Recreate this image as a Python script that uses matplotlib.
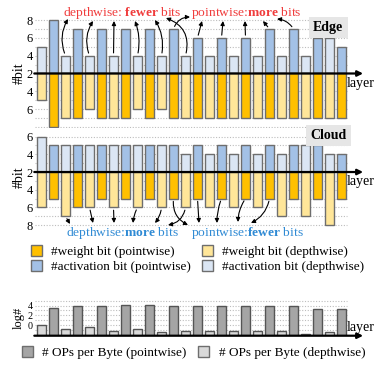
import matplotlib
matplotlib.use('Agg')
import matplotlib.pyplot as plt
from matplotlib.patches import Patch
import numpy as np

plt.rcParams['font.family'] = 'Liberation Serif'
plt.rcParams['mathtext.fontset'] = 'custom'
plt.rcParams['mathtext.rm'] = 'Liberation Serif'
plt.rcParams['mathtext.bf'] = 'Liberation Serif:bold'

# 13 blocks: a depthwise layer followed by a pointwise layer
edge_act_dw = [5, 4, 4, 4, 4, 4, 4, 4, 4, 4, 4, 4, 6]
edge_act_pw = [8, 7, 7, 7, 7, 7, 6, 6, 6, 7, 7, 6, 5]
edge_w_dw = [5, 7, 6, 7, 6, 6, 7, 7, 7, 7, 7, 7, 7]
edge_w_pw = [8, 7, 7, 7, 7, 7, 7, 7, 7, 7, 7, 7, 7]

cloud_act_dw = [6, 5, 5, 5, 5, 5, 4, 4, 4, 4, 4, 5, 4]
cloud_act_pw = [5, 5, 5, 5, 5, 5, 5, 5, 5, 5, 5, 5, 4]
cloud_w_dw = [6, 7, 6, 6, 6, 6, 6, 6, 6, 6, 7, 7, 8]
cloud_w_pw = [5, 6, 5, 5, 5, 5, 5, 5, 5, 5, 5, 5, 5]

# log # OPs per byte
ops_dw = [0.1, -0.9, -0.5, -1.3, -0.9, -1.45, -1.25, -1.25, -1.25, -1.25, -1.25, -1.9, -1.45]
ops_pw = [3.5, 4.0, 4.0, 4.1, 4.1, 4.0, 4.0, 4.0, 4.0, 4.0, 4.0, 3.3, 3.3]
ops_base = -2.2
bit_base = 2

C_W_PW = '#ffc000'
C_W_DW = '#ffe699'
C_A_PW = '#a3c1e6'
C_A_DW = '#dbe6f4'
C_OP_PW = '#a5a5a5'
C_OP_DW = '#d9d9d9'
EC = '#6e6e6e'
W = 0.72
W_PX, H_PX = 376, 370

x_dw = np.arange(len(edge_act_dw)) * 2
x_pw = x_dw + 1


def interleave(dw, pw):
    out = np.empty(len(dw) + len(pw))
    out[0::2] = dw
    out[1::2] = pw
    return out


def px(x, y):
    return x / W_PX, 1 - y / H_PX


def axes_at(top, bottom):
    left, right = 34.3, 365.5
    return fig.add_axes([left / W_PX, 1 - bottom / H_PX, (right - left) / W_PX, (bottom - top) / H_PX])


def style_axes(ax, grid_vals, xlabel_y):
    ax.set_xlim(-0.6, 27)
    for s in ax.spines.values():
        s.set_visible(False)
    ax.set_xticks([])
    ax.tick_params(axis='y', length=0, pad=1, labelsize=9)
    ax.hlines(grid_vals, -0.55, 25.45, colors='#bdbdbd', linestyles=(0, (1, 1.5)), lw=0.8, zorder=0)
    ax.text(25.4, xlabel_y, 'layer', fontsize=10, va='center', ha='left')


def bit_panel(ax, act_dw, act_pw, w_dw, w_pw, up_max, down_max, up_ticks, down_ticks):
    ax.bar(x_dw, np.array(act_dw) - bit_base, W, color=C_A_DW, edgecolor=EC, lw=1, zorder=2)
    ax.bar(x_pw, np.array(act_pw) - bit_base, W, color=C_A_PW, edgecolor=EC, lw=1, zorder=2)
    ax.bar(x_dw, -(np.array(w_dw) - bit_base), W, color=C_W_DW, edgecolor=EC, lw=1, zorder=2)
    ax.bar(x_pw, -(np.array(w_pw) - bit_base), W, color=C_W_PW, edgecolor=EC, lw=1, zorder=2)
    ax.annotate('', xy=(26.8, 0), xytext=(-0.6, 0),
                arrowprops=dict(arrowstyle='-|>', lw=1.6, color='black', mutation_scale=8, shrinkA=0, shrinkB=0),
                zorder=5)
    grid = [v - bit_base for v in range(3, up_max + 1)] + [-(v - bit_base) for v in range(3, down_max + 1)]
    style_axes(ax, grid, -1.1)
    ticks = [v - bit_base for v in up_ticks] + [0] + [-(v - bit_base) for v in down_ticks]
    labels = [str(v) for v in up_ticks] + ['2'] + [str(v) for v in down_ticks]
    ax.set_yticks(ticks)
    ax.set_yticklabels(labels)
    ax.set_ylabel('#bit', fontsize=10, labelpad=1)


fig = plt.figure(figsize=(W_PX / 100, H_PX / 100), dpi=100)

# Edge
ax1 = axes_at(17.4, 128.7)
ax1.set_ylim(-6.2, 6.3)
bit_panel(ax1, edge_act_dw, edge_act_pw, edge_w_dw, edge_w_pw, 8, 8, [8, 6, 4], [4, 6])
ax1.text(23.9, 5.2, 'Edge', fontsize=10, fontweight='bold', ha='center', va='center',
         bbox=dict(boxstyle='square,pad=0.3', fc='#e6e6e6', ec='none'))

# Cloud
ax2 = axes_at(127.75, 226.9)
ax2.set_ylim(-6.2, 5.0)
bit_panel(ax2, cloud_act_dw, cloud_act_pw, cloud_w_dw, cloud_w_pw, 6, 8, [6, 4], [4, 6, 8])
ax2.text(23.9, 4.1, 'Cloud', fontsize=10, fontweight='bold', ha='center', va='center',
         bbox=dict(boxstyle='square,pad=0.3', fc='#e6e6e6', ec='none'), clip_on=False)

red = '#f03c3c'
blue = '#2f8ad4'
fig.text(*px(122.5, 13), r'depthwise: $\mathbf{fewer}$ bits', color=red, fontsize=9.7, ha='center', va='center')
fig.text(*px(246, 13), r'pointwise:$\mathbf{more}$ bits', color=red, fontsize=9.7, ha='center', va='center')
fig.text(*px(122, 233), r'depthwise:$\mathbf{more}$ bits', color=blue, fontsize=9.7, ha='center', va='center')
fig.text(*px(247, 233), r'pointwise:$\mathbf{fewer}$ bits', color=blue, fontsize=9.7, ha='center', va='center')

arrow_kw = dict(arrowstyle='-|>', lw=0.8, color='black', mutation_scale=6, shrinkA=2, shrinkB=0)

edge_act = interleave(edge_act_dw, edge_act_pw)
edge_arrows = [(2, (68, 19), -0.25), (4, (93, 21), -0.25), (6, (114, 21), 0), (8, (135, 21), 0.15),
               (10, (155, 20), 0.2), (12, (166, 18), 0.45), (11, (190, 17), -0.35), (13, (202, 21), 0),
               (15, (223, 21), 0), (17, (245, 21), 0), (19, (263, 21), 0), (21, (277, 19), 0.25)]
for i, (tx, ty), rad in edge_arrows:
    ax1.annotate('', xy=(tx, H_PX - ty), xycoords='figure pixels', xytext=(i, edge_act[i] - bit_base),
                 textcoords='data', arrowprops=dict(connectionstyle='arc3,rad=%g' % rad, **arrow_kw))

cloud_w = interleave(cloud_w_dw, cloud_w_pw)
cloud_arrows = [(2, (70, 224), 0), (4, (93, 223), 0), (6, (114, 223), 0), (8, (133, 223), 0.1),
                (10, (155, 223), -0.15), (11, (188, 225), 0.35), (12, (168, 225), -0.35), (13, (199, 223), 0),
                (15, (217, 223), 0.1), (17, (238, 222), 0.15), (19, (251, 223), -0.25)]
for i, (tx, ty), rad in cloud_arrows:
    ax2.annotate('', xy=(tx, H_PX - ty), xycoords='figure pixels', xytext=(i, -(cloud_w[i] - bit_base)),
                 textcoords='data', arrowprops=dict(connectionstyle='arc3,rad=%g' % rad, **arrow_kw))

handles = [Patch(fc=C_W_PW, ec=EC), Patch(fc=C_A_PW, ec=EC), Patch(fc=C_W_DW, ec=EC), Patch(fc=C_A_DW, ec=EC)]
labels = ['#weight bit (pointwise)', '#activation bit (pointwise)',
          '#weight bit (depthwise)', '#activation bit (depthwise)']
fig.legend(handles, labels, ncol=2, loc='upper left', bbox_to_anchor=px(30.5, 245), frameon=False,
           fontsize=9.5, handlelength=0.85, handleheight=0.85, handletextpad=0.7, columnspacing=0.85,
           labelspacing=0.2, borderpad=0, borderaxespad=0)

# OPs per byte
ax3 = axes_at(299.8, 336.2)
ax3.set_ylim(-2.3, 5.2)
ax3.bar(x_dw, np.array(ops_dw) - ops_base, W, bottom=ops_base, color=C_OP_DW, edgecolor='#555555', lw=1, zorder=2)
ax3.bar(x_pw, np.array(ops_pw) - ops_base, W, bottom=ops_base, color=C_OP_PW, edgecolor='#555555', lw=1, zorder=2)
ax3.annotate('', xy=(26.8, ops_base), xytext=(-0.6, ops_base),
             arrowprops=dict(arrowstyle='-|>', lw=1.6, color='black', mutation_scale=8, shrinkA=0, shrinkB=0),
             zorder=5)
style_axes(ax3, list(range(-1, 6)), -0.5)
ax3.set_yticks([0, 2, 4])
ax3.set_yticklabels(['0', '2', '4'])
ax3.tick_params(axis='y', labelsize=7.3)
ax3.set_ylabel('log#', fontsize=9, labelpad=2)

fig.legend([Patch(fc=C_OP_PW, ec=EC), Patch(fc=C_OP_DW, ec=EC)],
           ['# OPs per Byte (pointwise)', '# OPs per Byte (depthwise)'], ncol=2, loc='upper left',
           bbox_to_anchor=px(21.5, 346), frameon=False, fontsize=9.5, handlelength=0.85, handleheight=0.85,
           handletextpad=0.7, columnspacing=0.9, borderpad=0, borderaxespad=0)

fig.savefig('out.png', dpi=100)
